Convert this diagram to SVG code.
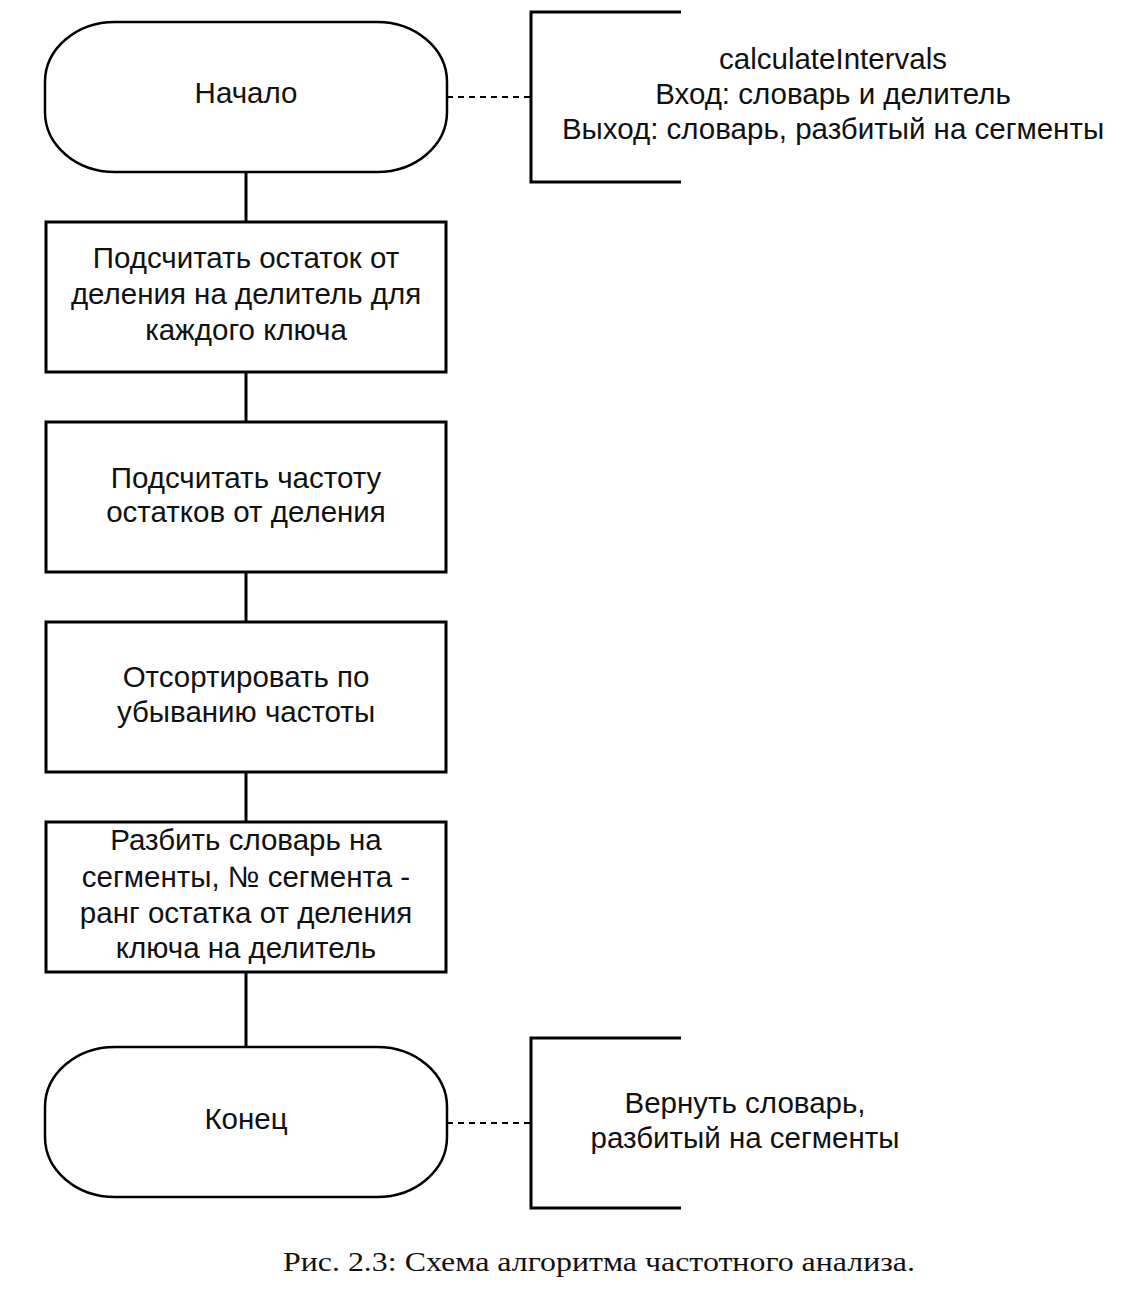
<svg xmlns="http://www.w3.org/2000/svg" width="1128" height="1292" viewBox="0 0 1128 1292">
<style>
.t{font-family:"Liberation Sans",Arial,sans-serif;font-size:29.5px;fill:#111;text-anchor:middle}
.box{fill:#fff;stroke:#000;stroke-width:3}
.term{fill:#fff;stroke:#000;stroke-width:2.5}
.ln{stroke:#000;stroke-width:3;fill:none}
.dash{stroke:#000;stroke-width:2;stroke-dasharray:6 5;fill:none}
.cap{font-family:"Liberation Serif","Times New Roman",serif;font-size:28px;fill:#111;text-anchor:middle}
</style>
<rect width="1128" height="1292" fill="#fff"/>
<g id="connectors">
<line class="ln" x1="246" y1="172" x2="246" y2="222"/>
<line class="ln" x1="246" y1="372" x2="246" y2="422"/>
<line class="ln" x1="246" y1="572" x2="246" y2="622"/>
<line class="ln" x1="246" y1="772" x2="246" y2="822"/>
<line class="ln" x1="246" y1="972" x2="246" y2="1047"/>
<line class="dash" x1="447" y1="97" x2="531" y2="97"/>
<line class="dash" x1="447" y1="1123" x2="531" y2="1123"/>
</g>
<g id="start">
<rect class="term" x="45" y="22" width="402" height="150" rx="70" ry="60"/>
<text class="t" x="246" y="103">Начало</text>
</g>
<g id="comment1">
<path class="ln" d="M681 12 H531 V182 H681"/>
<text class="t" x="833" y="69">calculateIntervals</text>
<text class="t" x="833" y="104">Вход: словарь и делитель</text>
<text class="t" x="833" y="139">Выход: словарь, разбитый на сегменты</text>
</g>
<g id="step1">
<rect class="box" x="46" y="222" width="400" height="150"/>
<text class="t" x="246" y="268">Подсчитать остаток от</text>
<text class="t" x="246" y="304">деления на делитель для</text>
<text class="t" x="246" y="340">каждого ключа</text>
</g>
<g id="step2">
<rect class="box" x="46" y="422" width="400" height="150"/>
<text class="t" x="246" y="488">Подсчитать частоту</text>
<text class="t" x="246" y="522">остатков от деления</text>
</g>
<g id="step3">
<rect class="box" x="46" y="622" width="400" height="150"/>
<text class="t" x="246" y="687">Отсортировать по</text>
<text class="t" x="246" y="722">убыванию частоты</text>
</g>
<g id="step4">
<rect class="box" x="46" y="822" width="400" height="150"/>
<text class="t" x="246" y="850">Разбить словарь на</text>
<text class="t" x="246" y="887">сегменты, № сегмента -</text>
<text class="t" x="246" y="923">ранг остатка от деления</text>
<text class="t" x="246" y="958">ключа на делитель</text>
</g>
<g id="end">
<rect class="term" x="45" y="1047" width="402" height="150" rx="70" ry="60"/>
<text class="t" x="246" y="1129">Конец</text>
</g>
<g id="comment2">
<path class="ln" d="M681 1038 H531 V1208 H681"/>
<text class="t" x="745" y="1113">Вернуть словарь,</text>
<text class="t" x="745" y="1148">разбитый на сегменты</text>
</g>
<text class="cap" x="599" y="1271" textLength="632" lengthAdjust="spacingAndGlyphs">Рис. 2.3: Схема алгоритма частотного анализа.</text>
</svg>
